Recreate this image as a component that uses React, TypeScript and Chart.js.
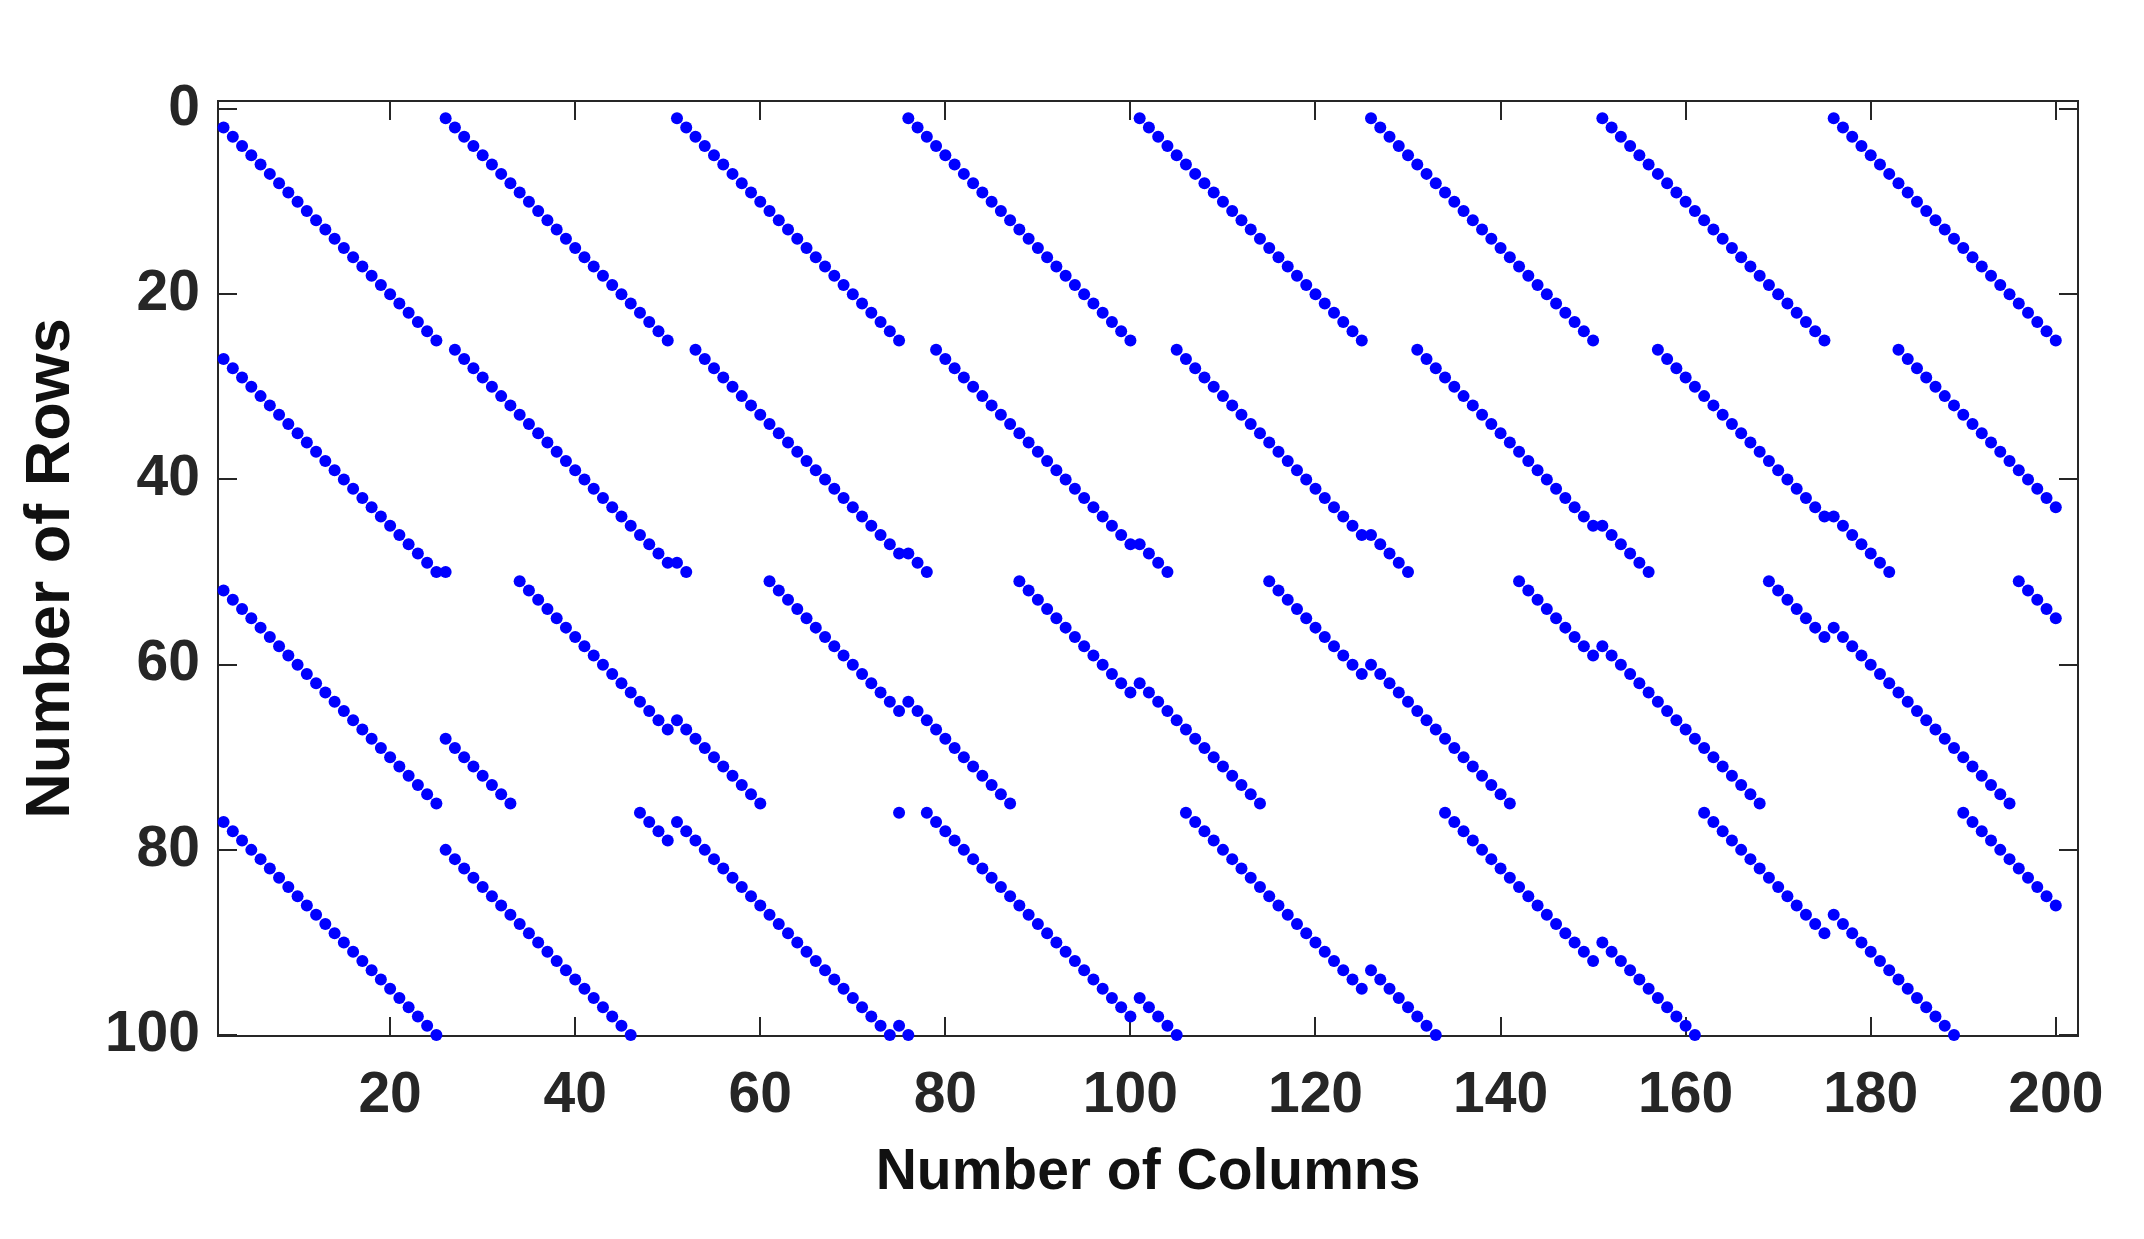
import React, { useEffect, useRef } from "react";
import { Chart, registerables } from "chart.js";

Chart.register(...registerables);

// Sparse matrix pattern (spy plot). Each band lists the row index of the
// nonzero entry for columns firstColumn, firstColumn+1, ..., 200 (null = none).
const firstColumn = 2;

const band1Rows = [
  2, 3, 4, 5, 6, 7, 8, 9, 10, 11, 12, 13, 14, 15, 16, 17, 18, 19, 20, 21, 22, 23, 24, 25,
  1, 2, 3, 4, 5, 6, 7, 8, 9, 10, 11, 12, 13, 14, 15, 16, 17, 18, 19, 20, 21, 22, 23, 24, 25,
  1, 2, 3, 4, 5, 6, 7, 8, 9, 10, 11, 12, 13, 14, 15, 16, 17, 18, 19, 20, 21, 22, 23, 24, 25,
  1, 2, 3, 4, 5, 6, 7, 8, 9, 10, 11, 12, 13, 14, 15, 16, 17, 18, 19, 20, 21, 22, 23, 24, 25,
  1, 2, 3, 4, 5, 6, 7, 8, 9, 10, 11, 12, 13, 14, 15, 16, 17, 18, 19, 20, 21, 22, 23, 24, 25,
  1, 2, 3, 4, 5, 6, 7, 8, 9, 10, 11, 12, 13, 14, 15, 16, 17, 18, 19, 20, 21, 22, 23, 24, 25,
  1, 2, 3, 4, 5, 6, 7, 8, 9, 10, 11, 12, 13, 14, 15, 16, 17, 18, 19, 20, 21, 22, 23, 24, 25,
  1, 2, 3, 4, 5, 6, 7, 8, 9, 10, 11, 12, 13, 14, 15, 16, 17, 18, 19, 20, 21, 22, 23, 24, 25,
];

const band2Rows = [
  27, 28, 29, 30, 31, 32, 33, 34, 35, 36, 37, 38, 39, 40, 41, 42, 43, 44, 45, 46, 47, 48, 49, 50,
  50,
  26, 27, 28, 29, 30, 31, 32, 33, 34, 35, 36, 37, 38, 39, 40, 41, 42, 43, 44, 45, 46, 47, 48, 49,
  49, 50,
  26, 27, 28, 29, 30, 31, 32, 33, 34, 35, 36, 37, 38, 39, 40, 41, 42, 43, 44, 45, 46, 47, 48,
  48, 49, 50,
  26, 27, 28, 29, 30, 31, 32, 33, 34, 35, 36, 37, 38, 39, 40, 41, 42, 43, 44, 45, 46, 47,
  47, 48, 49, 50,
  26, 27, 28, 29, 30, 31, 32, 33, 34, 35, 36, 37, 38, 39, 40, 41, 42, 43, 44, 45, 46,
  46, 47, 48, 49, 50,
  26, 27, 28, 29, 30, 31, 32, 33, 34, 35, 36, 37, 38, 39, 40, 41, 42, 43, 44, 45,
  45, 46, 47, 48, 49, 50,
  26, 27, 28, 29, 30, 31, 32, 33, 34, 35, 36, 37, 38, 39, 40, 41, 42, 43, 44,
  44, 45, 46, 47, 48, 49, 50,
  26, 27, 28, 29, 30, 31, 32, 33, 34, 35, 36, 37, 38, 39, 40, 41, 42, 43,
];

const band3Rows = [
  52, 53, 54, 55, 56, 57, 58, 59, 60, 61, 62, 63, 64, 65, 66, 67, 68, 69, 70, 71, 72, 73, 74, 75,
  68, 69, 70, 71, 72, 73, 74, 75,
  51, 52, 53, 54, 55, 56, 57, 58, 59, 60, 61, 62, 63, 64, 65, 66, 67,
  66, 67, 68, 69, 70, 71, 72, 73, 74, 75,
  51, 52, 53, 54, 55, 56, 57, 58, 59, 60, 61, 62, 63, 64, 65,
  64, 65, 66, 67, 68, 69, 70, 71, 72, 73, 74, 75,
  51, 52, 53, 54, 55, 56, 57, 58, 59, 60, 61, 62, 63,
  62, 63, 64, 65, 66, 67, 68, 69, 70, 71, 72, 73, 74, 75,
  51, 52, 53, 54, 55, 56, 57, 58, 59, 60, 61,
  60, 61, 62, 63, 64, 65, 66, 67, 68, 69, 70, 71, 72, 73, 74, 75,
  51, 52, 53, 54, 55, 56, 57, 58, 59,
  58, 59, 60, 61, 62, 63, 64, 65, 66, 67, 68, 69, 70, 71, 72, 73, 74, 75,
  51, 52, 53, 54, 55, 56, 57,
  56, 57, 58, 59, 60, 61, 62, 63, 64, 65, 66, 67, 68, 69, 70, 71, 72, 73, 74, 75,
  51, 52, 53, 54, 55,
];

const band4Rows = [
  77, 78, 79, 80, 81, 82, 83, 84, 85, 86, 87, 88, 89, 90, 91, 92, 93, 94, 95, 96, 97, 98, 99, 100,
  80, 81, 82, 83, 84, 85, 86, 87, 88, 89, 90, 91, 92, 93, 94, 95, 96, 97, 98, 99, 100,
  76, 77, 78, 79,
  77, 78, 79, 80, 81, 82, 83, 84, 85, 86, 87, 88, 89, 90, 91, 92, 93, 94, 95, 96, 97, 98, 99, 100,
  99, 100, null,
  76, 77, 78, 79, 80, 81, 82, 83, 84, 85, 86, 87, 88, 89, 90, 91, 92, 93, 94, 95, 96, 97, 98,
  96, 97, 98, 99, 100,
  76, 77, 78, 79, 80, 81, 82, 83, 84, 85, 86, 87, 88, 89, 90, 91, 92, 93, 94, 95,
  93, 94, 95, 96, 97, 98, 99, 100,
  76, 77, 78, 79, 80, 81, 82, 83, 84, 85, 86, 87, 88, 89, 90, 91, 92,
  90, 91, 92, 93, 94, 95, 96, 97, 98, 99, 100,
  76, 77, 78, 79, 80, 81, 82, 83, 84, 85, 86, 87, 88, 89,
  87, 88, 89, 90, 91, 92, 93, 94, 95, 96, 97, 98, 99, 100,
  76, 77, 78, 79, 80, 81, 82, 83, 84, 85, 86,
];

// Isolated entries not covered by the band lists: [column, row]
const extraEntries = [[75, 76]];

const xTickValues = [20, 40, 60, 80, 100, 120, 140, 160, 180, 200];
const yTickValues = [0, 20, 40, 60, 80, 100];
const xAxisTitle = "Number of Columns";
const yAxisTitle = "Number of Rows";

const AXIS_COLOR = "#262626";
const DOT_COLOR = "#0000ff";
const FONT_FAMILY = "'Liberation Sans', Arial, Helvetica, sans-serif";

function bandToPoints(rows: (number | null)[]) {
  const pts: { x: number; y: number }[] = [];
  rows.forEach((r, i) => {
    if (r !== null) pts.push({ x: firstColumn + i, y: r });
  });
  return pts;
}

const framePlugin = {
  id: "matlabFrame",
  beforeDatasetsDraw(chart: any) {
    const { ctx, chartArea: a, scales } = chart;
    const tickLen = 19;
    ctx.save();
    ctx.strokeStyle = AXIS_COLOR;
    ctx.lineWidth = 2;
    ctx.beginPath();
    for (const v of xTickValues) {
      const px = Math.round(scales.x.getPixelForValue(v));
      ctx.moveTo(px, a.bottom);
      ctx.lineTo(px, a.bottom - tickLen);
      ctx.moveTo(px, a.top);
      ctx.lineTo(px, a.top + tickLen);
    }
    for (const v of yTickValues) {
      const py = Math.round(scales.y.getPixelForValue(v));
      ctx.moveTo(a.left, py);
      ctx.lineTo(a.left + tickLen, py);
      ctx.moveTo(a.right, py);
      ctx.lineTo(a.right - tickLen, py);
    }
    ctx.stroke();
    ctx.strokeRect(a.left, a.top, a.right - a.left, a.bottom - a.top);
    ctx.restore();
  },
};

export default function App() {
  const canvasRef = useRef<HTMLCanvasElement | null>(null);

  useEffect(() => {
    if (!canvasRef.current) return;
    const points = [
      ...bandToPoints(band1Rows),
      ...bandToPoints(band2Rows),
      ...bandToPoints(band3Rows),
      ...bandToPoints(band4Rows),
      ...extraEntries.map(([c, r]) => ({ x: c, y: r })),
    ];
    const tickFont = { family: FONT_FAMILY, size: 57, weight: "bold" as const };
    const xTitleFont = { family: FONT_FAMILY, size: 57, weight: "bold" as const };
    const yTitleFont = { family: FONT_FAMILY, size: 63, weight: "bold" as const };

    const chart = new Chart(canvasRef.current, {
      type: "scatter",
      data: {
        datasets: [
          {
            data: points,
            pointRadius: 6,
            pointHoverRadius: 6,
            pointStyle: "circle",
            backgroundColor: DOT_COLOR,
            borderWidth: 0,
            clip: false as any,
          },
        ],
      },
      options: {
        animation: false,
        responsive: false,
        maintainAspectRatio: false,
        events: [],
        layout: { padding: { left: 0, top: 101, right: 66, bottom: 0 } },
        plugins: {
          legend: { display: false },
          tooltip: { enabled: false },
        },
        scales: {
          x: {
            type: "linear",
            position: "bottom",
            min: 1.4,
            max: 202.4,
            grid: { display: false, drawTicks: false },
            border: { display: false },
            ticks: {
              padding: 26,
              color: AXIS_COLOR,
              font: tickFont,
              autoSkip: false,
              maxRotation: 0,
              callback: (v: any) => String(v),
            },
            afterBuildTicks: (s: any) => {
              s.ticks = xTickValues.map((v) => ({ value: v }));
            },
            afterFit: (s: any) => {
              s.height = 203;
            },
            title: {
              display: true,
              text: xAxisTitle,
              color: "#111111",
              font: xTitleFont,
              padding: { top: 0, bottom: 32 },
            },
          },
          y: {
            type: "linear",
            position: "left",
            reverse: true,
            min: -0.87,
            max: 100.1,
            grid: { display: false, drawTicks: false },
            border: { display: false },
            ticks: {
              padding: 18,
              color: AXIS_COLOR,
              font: tickFont,
              autoSkip: false,
              callback: (v: any) => String(v),
            },
            afterBuildTicks: (s: any) => {
              s.ticks = yTickValues.map((v) => ({ value: v }));
            },
            afterFit: (s: any) => {
              s.width = 218;
            },
            title: {
              display: true,
              text: yAxisTitle,
              color: "#111111",
              font: yTitleFont,
              padding: { top: 14, bottom: 0 },
            },
          },
        },
      },
      plugins: [framePlugin],
    });
    return () => chart.destroy();
  }, []);

  return (
    <div
      style={{
        position: "fixed",
        left: 0,
        top: 0,
        width: 2144,
        height: 1239,
        background: "#ffffff",
      }}
    >
      <canvas
        ref={canvasRef}
        width={2144}
        height={1239}
        style={{ display: "block", width: 2144, height: 1239 }}
      />
    </div>
  );
}
